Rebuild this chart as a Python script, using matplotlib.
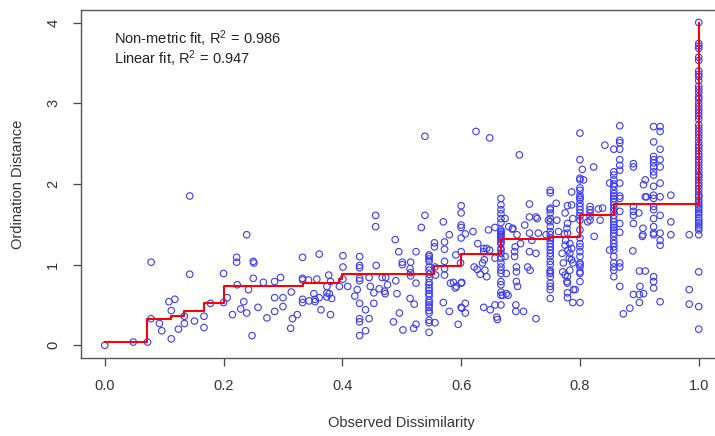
import matplotlib.pyplot as plt

plt.rcParams['font.family'] = ['Liberation Sans', 'DejaVu Sans']
plt.rcParams['mathtext.fontset'] = 'custom'
plt.rcParams['mathtext.rm'] = 'Liberation Sans'
plt.rcParams['mathtext.it'] = 'Liberation Sans:italic'

# puntos dispersos (x, y)
pts_low = [(0.0, 0.0), (0.048, 0.04), (0.072, 0.04), (0.078, 1.03), (0.078, 0.33), (0.092, 0.27),
           (0.096, 0.18), (0.108, 0.54), (0.112, 0.43), (0.112, 0.08), (0.118, 0.57), (0.124, 0.20),
           (0.134, 0.36), (0.134, 0.27), (0.143, 1.85), (0.143, 0.88), (0.151, 0.30), (0.167, 0.36),
           (0.167, 0.22), (0.178, 0.52), (0.200, 0.89), (0.200, 0.53), (0.206, 0.59), (0.215, 0.38),
           (0.222, 1.09), (0.222, 1.03), (0.223, 0.75), (0.229, 0.45), (0.234, 0.54), (0.239, 1.37),
           (0.239, 0.40), (0.242, 0.69), (0.248, 0.12), (0.250, 1.04), (0.251, 1.02), (0.250, 0.83),
           (0.258, 0.47), (0.267, 0.78), (0.273, 0.34), (0.286, 0.79), (0.286, 0.59), (0.286, 0.42),
           (0.296, 0.84), (0.300, 0.59), (0.300, 0.48), (0.313, 0.21), (0.314, 0.66), (0.316, 0.33),
           (0.324, 0.38)]

pts_mid = [(0.333, 1.09), (0.333, 0.83), (0.333, 0.81), (0.333, 0.57), (0.333, 0.53), (0.343, 0.81),
           (0.344, 0.55), (0.352, 0.64), (0.354, 0.57), (0.354, 0.54), (0.357, 0.82), (0.361, 1.13),
           (0.361, 0.59), (0.364, 0.44), (0.374, 0.73), (0.374, 0.65), (0.374, 0.60), (0.377, 0.87),
           (0.380, 0.79), (0.378, 0.64), (0.382, 0.58), (0.380, 0.38), (0.401, 1.11), (0.401, 0.97),
           (0.401, 0.82), (0.395, 0.73), (0.409, 0.73), (0.421, 0.61), (0.425, 0.69), (0.429, 1.10),
           (0.429, 0.99), (0.429, 0.96), (0.429, 0.83), (0.429, 0.80), (0.429, 0.52), (0.429, 0.33),
           (0.429, 0.29), (0.429, 0.12), (0.439, 0.44), (0.439, 0.18), (0.445, 0.84), (0.445, 0.33),
           (0.447, 0.73), (0.453, 0.65), (0.453, 0.52), (0.456, 1.61), (0.456, 1.47), (0.457, 0.99),
           (0.462, 0.70), (0.467, 0.84), (0.471, 0.67), (0.472, 0.64), (0.476, 0.75), (0.473, 0.84),
           (0.486, 0.29), (0.489, 1.31), (0.490, 0.80), (0.492, 0.64), (0.495, 1.16), (0.496, 0.40),
           (0.501, 1.03), (0.501, 1.00), (0.502, 0.19), (0.515, 1.03), (0.514, 0.95), (0.515, 0.90),
           (0.515, 0.86), (0.514, 0.58), (0.520, 0.21), (0.524, 0.26), (0.521, 0.51), (0.524, 1.16),
           (0.524, 0.77), (0.533, 1.46), (0.539, 2.59), (0.539, 1.61)]

pts_060 = [(0.555, 1.27), (0.555, 1.22), (0.556, 0.97), (0.556, 0.28), (0.557, 0.87), (0.570, 1.53),
           (0.572, 1.28), (0.572, 1.19), (0.572, 1.04), (0.572, 0.95), (0.572, 0.87), (0.570, 0.53),
           (0.580, 1.37), (0.580, 0.42), (0.582, 0.77), (0.587, 0.78), (0.590, 0.71), (0.592, 0.73),
           (0.591, 1.12), (0.599, 1.02), (0.595, 0.26), (0.601, 0.78), (0.601, 0.46), (0.607, 0.52),
           (0.607, 0.40), (0.607, 1.38), (0.620, 1.41), (0.625, 2.65), (0.628, 1.26), (0.622, 0.97),
           (0.627, 0.94), (0.632, 0.88), (0.636, 1.02), (0.638, 1.20), (0.638, 1.16), (0.639, 1.06),
           (0.640, 0.93), (0.638, 0.47), (0.643, 1.20), (0.643, 0.85), (0.646, 1.43), (0.648, 1.18),
           (0.648, 2.57), (0.649, 0.44), (0.657, 1.46), (0.657, 1.08), (0.657, 0.50), (0.660, 0.35),
           (0.661, 0.32), (0.670, 0.62), (0.674, 1.57), (0.674, 1.10), (0.676, 0.89), (0.676, 0.64),
           (0.679, 0.62), (0.680, 1.47), (0.686, 1.44), (0.687, 1.45), (0.690, 1.16), (0.690, 1.10),
           (0.691, 1.22), (0.693, 0.97), (0.693, 0.91), (0.693, 0.79), (0.692, 0.50), (0.692, 0.42),
           (0.694, 1.37), (0.695, 0.73), (0.698, 2.36), (0.700, 1.26), (0.705, 0.42), (0.707, 1.49),
           (0.715, 1.75), (0.715, 1.59), (0.715, 1.39), (0.715, 1.16), (0.712, 0.97), (0.716, 0.93),
           (0.719, 1.30), (0.726, 1.59), (0.728, 1.57), (0.726, 1.14), (0.726, 0.33), (0.730, 1.39)]

pts_078 = [(0.743, 1.37), (0.747, 1.55), (0.761, 1.55), (0.760, 1.76), (0.764, 1.41), (0.770, 1.14),
           (0.779, 1.73), (0.786, 1.90), (0.786, 1.74), (0.775, 1.64), (0.779, 1.51), (0.779, 1.39),
           (0.783, 1.26), (0.786, 1.20), (0.783, 1.14), (0.786, 1.06), (0.788, 1.02), (0.783, 0.93),
           (0.779, 0.85), (0.779, 0.77), (0.779, 0.65), (0.779, 0.59), (0.788, 0.53), (0.792, 0.69),
           (0.788, 1.57), (0.775, 1.24), (0.772, 1.02), (0.771, 0.91), (0.776, 1.30), (0.778, 1.45),
           (0.774, 1.38), (0.780, 1.18), (0.782, 1.08), (0.775, 0.87), (0.778, 0.79), (0.789, 0.69)]

pts_082 = [(0.804, 2.18), (0.806, 2.05), (0.823, 2.21), (0.817, 1.72), (0.817, 1.68), (0.817, 1.64),
           (0.817, 1.60), (0.817, 1.55), (0.831, 1.69), (0.838, 1.70), (0.834, 1.55), (0.824, 1.35),
           (0.813, 1.53), (0.842, 2.48), (0.850, 2.01), (0.850, 1.18)]

pts_090 = [(0.873, 0.39), (0.884, 0.46), (0.889, 1.17), (0.890, 2.25), (0.890, 2.21), (0.890, 1.72),
           (0.890, 1.66), (0.890, 1.61), (0.890, 1.51), (0.890, 0.63), (0.899, 1.64), (0.901, 0.73),
           (0.900, 0.63), (0.900, 0.53), (0.906, 1.45), (0.906, 1.37), (0.905, 1.35), (0.907, 0.64),
           (0.910, 0.92), (0.900, 0.92), (0.910, 2.05), (0.907, 1.99), (0.910, 1.84), (0.912, 1.84),
           (0.953, 1.86), (0.953, 1.53), (0.953, 1.37), (0.984, 1.37), (0.984, 0.69), (0.984, 0.51)]

# columnas de puntos con la misma disimilitud
col_055 = [1.12, 1.10, 1.07, 1.04, 0.97, 0.93, 0.88, 0.83, 0.78, 0.75, 0.71, 0.68, 0.64, 0.61,
           0.56, 0.53, 0.50, 0.47, 0.43, 0.40, 0.31, 0.28, 0.16]
col_060 = [1.73, 1.64, 1.49, 1.46, 1.33, 1.16, 0.77, 0.47]
col_0667 = [1.82, 1.74, 1.68, 1.63, 1.57, 1.52, 1.43, 1.41, 1.39, 1.37, 1.35, 1.33, 1.31, 1.28,
            1.26, 1.20, 1.18, 1.14, 1.08, 1.02, 0.97, 0.93, 0.89, 0.79, 0.75, 0.66, 0.62, 0.50]
col_075 = [1.92, 1.89, 1.70, 1.68, 1.64, 1.57, 1.53, 1.47, 1.41, 1.37, 1.33, 1.30, 1.26, 1.22,
           1.18, 1.14, 1.10, 1.04, 1.00, 0.93, 0.91, 0.89, 0.85, 0.77, 0.73, 0.69, 0.58]
col_080 = [2.63, 2.30, 2.07, 2.05, 1.95, 1.92, 1.86, 1.83, 1.81, 1.76, 1.72, 1.68, 1.64, 1.60,
           1.55, 1.43, 1.33, 1.26, 1.22, 1.16, 1.10, 1.02, 1.00, 0.97, 0.91, 0.89, 0.79, 0.53]
col_0857 = [2.43, 2.15, 2.11, 2.05, 2.00, 1.97, 1.92, 1.88, 1.85, 1.82, 1.78, 1.74, 1.70, 1.66,
            1.61, 1.57, 1.53, 1.49, 1.46, 1.43, 1.39, 1.35, 1.30, 1.26, 1.22, 1.18, 1.10, 1.02,
            0.97, 0.93, 0.85]
col_0867 = [2.72, 2.54, 2.51, 2.43, 2.30, 2.23, 2.17, 2.01, 1.85, 1.82, 1.66, 1.51, 1.40, 1.02,
            0.97, 0.73]
col_0924 = [2.71, 2.52, 2.34, 2.30, 2.26, 2.21, 2.15, 2.11, 1.97, 1.86, 1.82, 1.72, 1.68, 1.57,
            1.47, 1.39, 1.37, 0.85, 0.79, 0.71]
col_0935 = [2.71, 2.65, 2.43, 2.30, 2.21, 2.01, 1.84, 1.61, 1.39, 1.30, 1.24, 0.54]
col_1 = [4.00, 3.74, 3.71, 3.68, 3.57, 3.53, 3.40, 3.36, 3.33, 3.28, 3.21, 3.17, 3.13, 3.08,
         3.05, 3.00, 2.96, 2.92, 2.88, 2.84, 2.80, 2.73, 2.69, 2.65, 2.61, 2.57, 2.52, 2.48,
         2.45, 2.41, 2.37, 2.34, 2.30, 2.27, 2.23, 2.19, 2.15, 2.11, 2.09, 2.05, 2.01, 1.98,
         1.94, 1.90, 1.86, 1.84, 1.80, 1.77, 1.74, 1.71, 1.68, 1.65, 1.62, 1.58, 1.55, 1.52,
         1.49, 1.46, 1.43, 1.37, 0.91, 0.48, 0.20]
columnas = {0.546: col_055, 0.600: col_060, 0.667: col_0667, 0.750: col_075, 0.800: col_080,
            0.857: col_0857, 0.867: col_0867, 0.924: col_0924, 0.935: col_0935, 1.000: col_1}

# ajuste monotono (escalera)
fit_x = [0.0, 0.0714, 0.112, 0.134, 0.167, 0.2, 0.333, 0.394, 0.4, 0.555, 0.6, 0.667, 0.75,
         0.8, 0.857, 1.0]
fit_y = [0.045, 0.326, 0.36, 0.425, 0.524, 0.735, 0.768, 0.818, 0.883, 0.986, 1.128, 1.317,
         1.346, 1.615, 1.751, 4.0]

xs, ys = [], []
for grupo in [pts_low, pts_mid, pts_060, pts_078, pts_082, pts_090]:
    for px, py in grupo:
        xs.append(px)
        ys.append(py)
for cx, vals in columnas.items():
    xs += [cx] * len(vals)
    ys += vals

W, H = 715, 436
fig = plt.figure(figsize=(W / 100, H / 100), dpi=100)
ax = fig.add_axes([81 / W, (H - 358.2) / H, (722.5 - 81) / W, (358.2 - 9.6) / H])

ax.scatter(xs, ys, s=22, facecolors='none', edgecolors='#3a3aff', linewidths=0.8, zorder=2)
ax.step(fit_x, fit_y, where='post', color='red', linewidth=1.5, zorder=3)

ax.set_xlim(-0.04, 1.04)
ax.set_ylim(-0.16, 4.16)
ax.set_xticks([0.0, 0.2, 0.4, 0.6, 0.8, 1.0])
ax.set_xticklabels(['0.0', '0.2', '0.4', '0.6', '0.8', '1.0'])
ax.set_yticks([0, 1, 2, 3, 4])
ax.set_yticklabels(['0', '1', '2', '3', '4'], rotation=90, va='center')
ax.tick_params(length=6, width=0.9, color='#444444', labelcolor='#333333', labelsize=10.5, pad=9)
for s in ax.spines.values():
    s.set_color('#555555')
    s.set_linewidth(1.0)

fig.text(401.5 / W, 1 - 423 / H, 'Observed Dissimilarity', ha='center', va='center',
         fontsize=10.5, color='#333333')
fig.text(18 / W, 1 - 184 / H, 'Ordination Distance', ha='center', va='center',
         rotation=90, fontsize=10.5, color='#333333')

fig.text(114 / W, 1 - 39 / H, 'Non-metric fit, R$^2$$\\,=\\,$0.986', ha='left', va='center',
         fontsize=10.5, color='#222222')
fig.text(114 / W, 1 - 59 / H, 'Linear fit, R$^2$$\\,=\\,$0.947', ha='left', va='center',
         fontsize=10.5, color='#222222')

plt.savefig('out.png', dpi=100)
